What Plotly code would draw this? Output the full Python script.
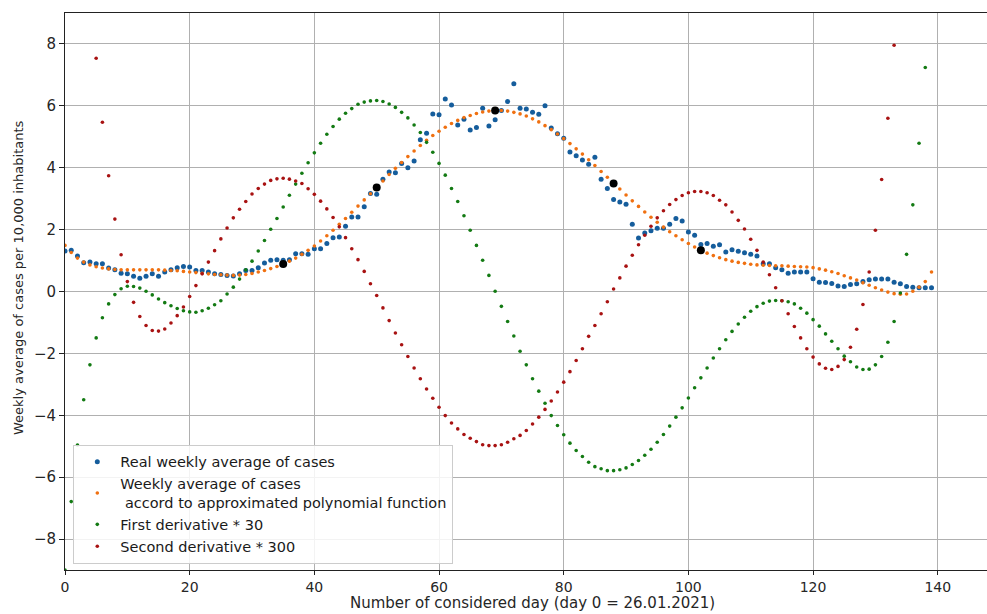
import plotly.graph_objects as go

days = list(range(140))

real_avg = [1.31, 1.33, 1.15, 0.93, 0.95, 0.90, 0.90, 0.76, 0.70, 0.59,
            0.57, 0.49, 0.43, 0.49, 0.57, 0.49, 0.63, 0.70, 0.77, 0.81,
            0.79, 0.68, 0.68, 0.63, 0.57, 0.55, 0.52, 0.50, 0.57, 0.68,
            0.68, 0.77, 0.92, 1.01, 1.03, 1.01, 1.03, 1.22, 1.22, 1.20,
            1.38, 1.38, 1.55, 1.74, 1.76, 2.11, 2.41, 2.41, 2.74, 3.17,
            3.14, 3.63, 3.86, 3.84, 4.14, 4.00, 4.22, 4.90, 5.11, 5.74,
            5.71, 6.22, 6.03, 5.38, 5.57, 5.22, 5.30, 5.92, 5.35, 5.55,
            5.85, 6.14, 6.71, 5.92, 5.90, 5.79, 5.73, 6.00, 5.28, 5.10,
            4.95, 4.51, 4.39, 4.25, 4.11, 4.34, 3.63, 3.33, 2.97, 2.89,
            2.82, 2.17, 1.73, 1.89, 1.96, 2.04, 2.04, 2.17, 2.36, 2.28,
            1.92, 1.82, 1.52, 1.55, 1.46, 1.51, 1.28, 1.35, 1.30, 1.25,
            1.20, 1.15, 0.90, 0.90, 0.77, 0.70, 0.59, 0.63, 0.63, 0.63,
            0.41, 0.30, 0.29, 0.26, 0.18, 0.16, 0.23, 0.25, 0.32, 0.38,
            0.40, 0.40, 0.40, 0.30, 0.25, 0.16, 0.14, 0.12, 0.12, 0.12]

poly_avg = [1.49, 1.26, 1.08, 0.95, 0.86, 0.80, 0.76, 0.73, 0.71, 0.70,
            0.70, 0.70, 0.70, 0.70, 0.70, 0.70, 0.69, 0.68, 0.67, 0.65,
            0.63, 0.61, 0.59, 0.57, 0.55, 0.54, 0.53, 0.52, 0.53, 0.55,
            0.58, 0.63, 0.68, 0.74, 0.81, 0.89, 0.98, 1.08, 1.20, 1.33,
            1.47, 1.63, 1.80, 1.98, 2.17, 2.36, 2.56, 2.76, 2.96, 3.16,
            3.36, 3.57, 3.78, 3.98, 4.17, 4.36, 4.54, 4.72, 4.89, 5.04,
            5.18, 5.31, 5.43, 5.53, 5.62, 5.69, 5.75, 5.80, 5.83, 5.85,
            5.85, 5.83, 5.79, 5.74, 5.67, 5.58, 5.48, 5.36, 5.23, 5.09,
            4.94, 4.78, 4.61, 4.44, 4.26, 4.07, 3.88, 3.69, 3.49, 3.31,
            3.12, 2.93, 2.75, 2.57, 2.40, 2.24, 2.08, 1.93, 1.80, 1.67,
            1.55, 1.44, 1.33, 1.24, 1.16, 1.09, 1.03, 0.98, 0.94, 0.91,
            0.88, 0.86, 0.85, 0.84, 0.83, 0.83, 0.82, 0.81, 0.80, 0.79,
            0.77, 0.73, 0.69, 0.64, 0.58, 0.51, 0.44, 0.37, 0.28, 0.20,
            0.12, 0.05, -0.02, -0.07, -0.09, -0.08, 0.01, 0.14, 0.32, 0.63]

first_deriv = [-9.0, -6.79, -4.96, -3.50, -2.37, -1.50, -0.85, -0.40, -0.10, 0.09,
               0.17, 0.16, 0.11, 0.01, -0.11, -0.24, -0.36, -0.46, -0.55, -0.62,
               -0.66, -0.67, -0.62, -0.54, -0.43, -0.30, -0.08, 0.14, 0.40, 0.70,
               0.98, 1.31, 1.65, 2.01, 2.36, 2.73, 3.11, 3.47, 3.82, 4.16,
               4.48, 4.79, 5.08, 5.33, 5.57, 5.76, 5.91, 6.05, 6.12, 6.16,
               6.17, 6.14, 6.06, 5.95, 5.79, 5.61, 5.38, 5.14, 4.82, 4.50,
               4.14, 3.76, 3.33, 2.91, 2.45, 1.98, 1.49, 1.01, 0.52, 0.01,
               -0.48, -0.97, -1.44, -1.93, -2.37, -2.82, -3.22, -3.61, -4.01, -4.33,
               -4.63, -4.90, -5.14, -5.33, -5.52, -5.66, -5.73, -5.79, -5.79, -5.76,
               -5.70, -5.59, -5.46, -5.29, -5.10, -4.87, -4.62, -4.35, -4.06, -3.76,
               -3.44, -3.11, -2.79, -2.47, -2.15, -1.85, -1.56, -1.29, -1.05, -0.83,
               -0.64, -0.49, -0.38, -0.31, -0.29, -0.30, -0.33, -0.40, -0.54, -0.70,
               -0.91, -1.12, -1.37, -1.61, -1.85, -2.09, -2.27, -2.44, -2.52, -2.51,
               -2.37, -2.10, -1.64, -0.97, -0.05, 1.20, 2.80, 4.79, 7.24, None]

second_deriv = [None, None, None, None, None, 7.54, 5.47, 3.74, 2.34, 1.19,
                0.32, -0.35, -0.81, -1.10, -1.26, -1.28, -1.21, -1.02, -0.78, -0.50,
                -0.16, 0.19, 0.57, 0.95, 1.32, 1.70, 2.05, 2.38, 2.66, 2.91,
                3.15, 3.33, 3.47, 3.59, 3.64, 3.66, 3.63, 3.57, 3.49, 3.32,
                3.14, 2.92, 2.67, 2.39, 2.09, 1.74, 1.38, 1.03, 0.65, 0.25,
                -0.13, -0.53, -0.94, -1.34, -1.72, -2.10, -2.47, -2.82, -3.15, -3.45,
                -3.74, -4.01, -4.25, -4.44, -4.62, -4.74, -4.85, -4.95, -4.98, -4.98,
                -4.95, -4.87, -4.76, -4.65, -4.49, -4.28, -4.06, -3.81, -3.54, -3.25,
                -2.93, -2.59, -2.23, -1.85, -1.45, -1.10, -0.72, -0.33, 0.08, 0.44,
                0.82, 1.17, 1.51, 1.82, 2.11, 2.38, 2.61, 2.81, 2.97, 3.10,
                3.19, 3.23, 3.23, 3.19, 3.10, 2.95, 2.80, 2.57, 2.30, 2.02,
                1.69, 1.33, 0.95, 0.54, 0.12, -0.30, -0.72, -1.13, -1.50, -1.85,
                -2.12, -2.34, -2.48, -2.52, -2.42, -2.20, -1.80, -1.22, -0.42, 0.63,
                1.98, 3.62, 5.60, 7.96, None, None, None, None, None, None]

key_days = [35, 50, 69, 88, 102]
key_values = [0.89, 3.36, 5.85, 3.49, 1.33]

x_ticks = [0, 20, 40, 60, 80, 100, 120, 140]
y_ticks = [-8, -6, -4, -2, 0, 2, 4, 6, 8]
y_ticktext = ["\u22128", "\u22126", "\u22124", "\u22122", "0", "2", "4", "6", "8"]

FONT = "DejaVu Sans"

fig = go.Figure()
fig.add_trace(go.Scatter(x=days, y=real_avg, mode="markers",
                         name="Real weekly average of cases",
                         marker=dict(size=5, color="#155d9c")))
fig.add_trace(go.Scatter(x=days, y=poly_avg, mode="markers",
                         name="Weekly average of cases<br> accord to approximated polynomial function",
                         marker=dict(size=3.6, color="#f07010")))
fig.add_trace(go.Scatter(x=days, y=first_deriv, mode="markers",
                         name="First derivative * 30",
                         marker=dict(size=3.6, color="#137a13")))
fig.add_trace(go.Scatter(x=days, y=second_deriv, mode="markers",
                         name="Second derivative * 300",
                         marker=dict(size=3.6, color="#a81212")))
fig.add_trace(go.Scatter(x=key_days, y=key_values, mode="markers",
                         showlegend=False,
                         marker=dict(size=8, color="black")))

fig.update_layout(
    width=987, height=614,
    margin=dict(l=65, r=0, t=13, b=44),
    paper_bgcolor="white", plot_bgcolor="white",
    font=dict(family=FONT, size=14, color="#262626"),
    legend=dict(x=0.009, y=0.011, xanchor="left", yanchor="bottom",
                bgcolor="rgba(255,255,255,0.85)", bordercolor="#cccccc",
                borderwidth=1, font=dict(family=FONT, size=14.5, color="#1a1a1a"),
                tracegroupgap=0, itemwidth=36),
    xaxis=dict(range=[0, 147.9], tickvals=x_ticks, showgrid=True,
               gridcolor="#b0b0b0", gridwidth=1, zeroline=False,
               showline=True, linecolor="#222222", linewidth=1, mirror=True,
               ticks="outside", ticklen=4, tickcolor="#222222",
               tickfont=dict(size=14)),
    yaxis=dict(range=[-9, 9], tickvals=y_ticks, ticktext=y_ticktext,
               showgrid=True, gridcolor="#b0b0b0", gridwidth=1, zeroline=False,
               showline=True, linecolor="#222222", linewidth=1, mirror=False,
               ticks="outside", ticklen=5, tickcolor="#222222",
               tickfont=dict(size=15)),
    annotations=[
        dict(text="Weekly average of cases per 10,000 inhabitants",
             xref="paper", yref="paper", x=-0.051, y=0.526,
             xanchor="center", yanchor="middle", textangle=-90,
             showarrow=False, font=dict(family=FONT, size=13, color="#262626")),
        dict(text="Number of considered day (day 0 = 26.01.2021)",
             xref="paper", yref="paper", x=0.507, y=-0.0789,
             xanchor="center", yanchor="bottom",
             showarrow=False, font=dict(family=FONT, size=15, color="#262626")),
    ],
)

fig.write_html("out.html")
